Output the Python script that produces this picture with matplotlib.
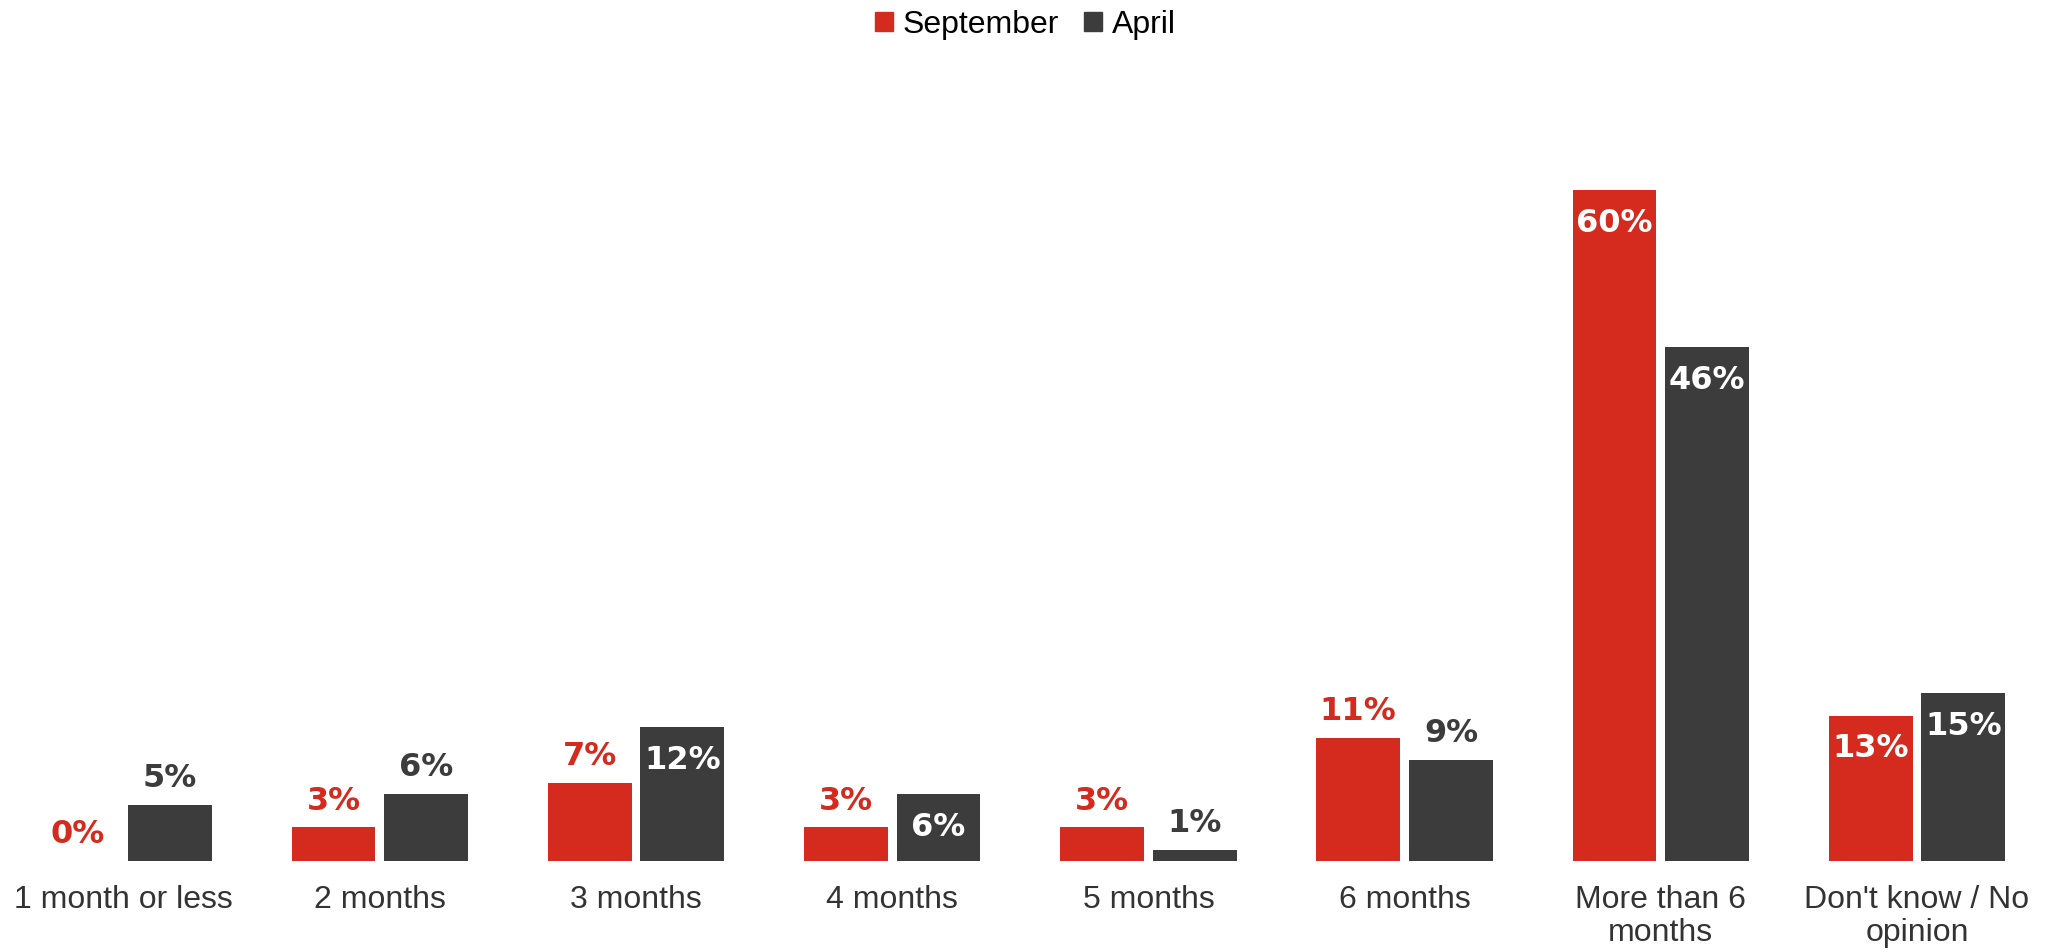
import matplotlib.pyplot as plt
import numpy as np
from matplotlib.patches import Patch

categories = ["1 month or less", "2 months", "3 months", "4 months", "5 months",
              "6 months", "More than 6\nmonths", "Don't know / No\nopinion"]
september = [0, 3, 7, 3, 3, 11, 60, 13]
april = [5, 6, 12, 6, 1, 9, 46, 15]

# which labels sit inside the bar (white) rather than above it
sept_inside = [False, False, False, False, False, False, True, True]
april_inside = [False, False, True, True, False, False, True, True]

red = "#D52B1E"
dark = "#3C3C3C"

fig = plt.figure(figsize=(20.51, 9.52), dpi=100)
ax = fig.add_axes([0, 0.0956, 1.0, 0.822])

x = np.arange(len(categories))
w = 0.327
off = 0.181
ax.bar(x - off, september, w, color=red)
ax.bar(x + off, april, w, color=dark)

def add_labels(xs, vals, inside, color):
    for xi, v, ins in zip(xs, vals, inside):
        if ins:
            ax.annotate(f"{v}%", (xi, v), xytext=(0, -24), textcoords="offset points",
                        ha="center", va="center", fontsize=23, fontweight="bold",
                        color="white", family="DejaVu Sans")
        else:
            ax.annotate(f"{v}%", (xi, v), xytext=(0, 19), textcoords="offset points",
                        ha="center", va="center", fontsize=23, fontweight="bold",
                        color=color, family="DejaVu Sans")

add_labels(x - off, september, sept_inside, red)
add_labels(x + off, april, april_inside, dark)

ax.set_xlim(-0.4825, 7.523)
ax.set_ylim(0, 70)
ax.set_xticks(x)
ax.set_xticklabels(categories, fontsize=23, color="#333333", family="Liberation Sans",
                   linespacing=1.15)
ax.tick_params(axis="x", length=0, pad=17)
ax.set_yticks([])
for s in ax.spines.values():
    s.set_visible(False)

handles = [Patch(color=red, label="September"), Patch(color=dark, label="April")]
fig.legend(handles=handles, loc="upper center", bbox_to_anchor=(0.5, 1.02), ncol=2,
           frameon=False, prop={"family": "Liberation Sans", "size": 23},
           handlelength=0.55, handleheight=0.55, handletextpad=0.3, columnspacing=0.8)

fig.savefig("out.png", dpi=100)
